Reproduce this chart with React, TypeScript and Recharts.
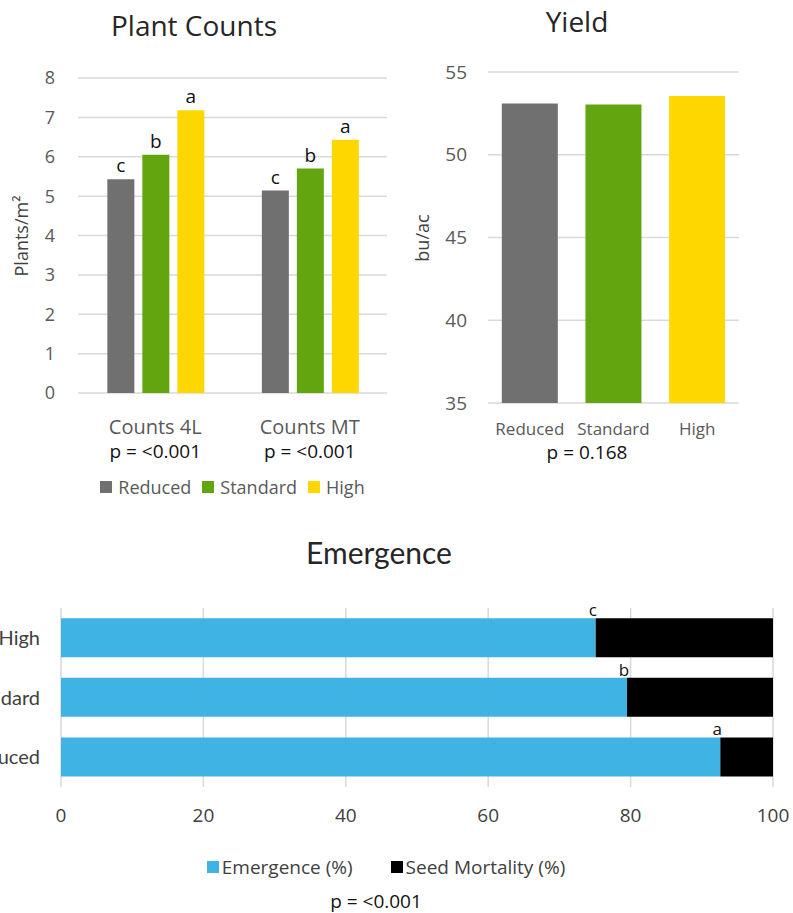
import React from 'react';
import { Bar, BarChart, CartesianGrid, Cell, LabelList, Legend, XAxis, YAxis } from 'recharts';

// plant counts
const countCategories = ['Counts 4L', 'Counts MT'];
const countPValues = ['p = <0.001', 'p = <0.001'];
const countSeries = ['Reduced', 'Standard', 'High'];
const countReduced = [5.43, 5.14];
const countStandard = [6.05, 5.7];
const countHigh = [7.18, 6.43];
const countLettersReduced = ['c', 'c'];
const countLettersStandard = ['b', 'b'];
const countLettersHigh = ['a', 'a'];
const countTicks = [0, 1, 2, 3, 4, 5, 6, 7, 8];

// yield
const yieldCategories = ['Reduced', 'Standard', 'High'];
const yieldValues = [53.09, 53.03, 53.55];
const yieldTicks = [35, 40, 45, 50, 55];
const yieldPValue = 'p = 0.168';

// emergence
const emergenceCategories = ['High', 'Standard', 'Reduced'];
const emergenceSeries = ['Emergence (%)', 'Seed Mortality (%)'];
const emergenceValues = [75.1, 79.5, 92.6];
const mortalityValues = [24.9, 20.5, 7.4];
const emergenceLetters = ['c', 'b', 'a'];
const emergenceTicks = [0, 20, 40, 60, 80, 100];
const emergencePValue = 'p = <0.001';

const GRAY = '#6f706f';
const GREEN = '#63a50e';
const YELLOW = '#ffd700';
const BLUE = '#3fb4e4';
const GRID = '#d9d9d9';
const SANS = '"Open Sans", sans-serif';

const countData = countCategories.map((name, i) => ({
  name,
  reduced: countReduced[i],
  standard: countStandard[i],
  high: countHigh[i],
  lr: countLettersReduced[i],
  ls: countLettersStandard[i],
  lh: countLettersHigh[i],
}));

const yieldData = yieldCategories.map((name, i) => ({ name, value: yieldValues[i] }));

const emergenceData = emergenceCategories.map((name, i) => ({
  name,
  emergence: emergenceValues[i],
  mortality: mortalityValues[i],
  letter: emergenceLetters[i],
}));

const legendContent = (gap: number, iconGap: number, fontSize: number, color: string) => (props: any) => (
  <div style={{ display: 'flex', justifyContent: 'center', gap, fontSize, color, lineHeight: '20px', fontFamily: SANS }}>
    {(props.payload || []).map((item: any) => (
      <span key={item.value} style={{ display: 'flex', alignItems: 'center' }}>
        <span style={{ width: 12, height: 12, background: item.color, marginRight: iconGap, display: 'inline-block' }} />
        {item.value}
      </span>
    ))}
  </div>
);

const CountTick = (props: any) => {
  const { x, y, payload } = props;
  return (
    <g>
      <text x={x} y={y + 39} textAnchor="middle" fill="#595959" fontSize={20}>
        {payload.value}
      </text>
      <text x={x} y={y + 63} textAnchor="middle" fill="#111" fontSize={19}>
        {countPValues[payload.index]}
      </text>
    </g>
  );
};

const EmergenceLetter = (props: any) => {
  const { x, y, width, value } = props;
  return (
    <text x={Number(x) + Number(width) - 3} y={Number(y) - 2} textAnchor="middle" fill="#111" fontSize={17}>
      {value}
    </text>
  );
};

const Title = ({ text, cx, top, size, font }: { text: string; cx: number; top: number; size: number; font: string }) => (
  <div
    style={{
      position: 'absolute', left: cx - 200, top, width: 400, textAlign: 'center',
      fontSize: size, lineHeight: 1, color: '#262626', fontFamily: font,
    }}
  >
    {text}
  </div>
);

const Note = ({ text, cx, top }: { text: string; cx: number; top: number }) => (
  <div style={{ position: 'absolute', left: cx - 100, top, width: 200, textAlign: 'center', fontSize: 19, lineHeight: 1, color: '#111' }}>
    {text}
  </div>
);

const AxisTitle = ({ text, cx, cy }: { text: string; cx: number; cy: number }) => (
  <div
    style={{
      position: 'absolute', left: cx - 60, top: cy - 10, width: 120, height: 20, lineHeight: '20px',
      textAlign: 'center', fontSize: 18, color: '#404040', transform: 'rotate(-90deg)',
    }}
  >
    {text}
  </div>
);

export default function App() {
  return (
    <div
      style={{
        position: 'absolute', left: 0, top: 0, width: 793, height: 913, overflow: 'hidden',
        background: '#fff', fontFamily: SANS,
      }}
    >
      {/* Plant Counts */}
      <Title text="Plant Counts" cx={194} top={11} size={28} font={SANS} />
      <AxisTitle text="Plants/m²" cx={21} cy={236} />
      <div style={{ position: 'absolute', left: 0, top: 0 }}>
        <BarChart
          width={400}
          height={510}
          data={countData}
          margin={{ top: 78, right: 13, bottom: 57, left: 0 }}
          barCategoryGap="19%"
          barGap={8}
        >
          <CartesianGrid vertical={false} stroke={GRID} strokeWidth={1.5} />
          <XAxis dataKey="name" height={60} axisLine={false} tickLine={false} tickSize={0} tick={<CountTick />} interval={0} />
          <YAxis
            width={78}
            domain={[0, 8]}
            ticks={countTicks}
            axisLine={false}
            tickLine={false}
            tickSize={0}
            tickMargin={23}
            tick={{ fontSize: 18, fill: '#595959' }}
          />
          <Legend
            layout="horizontal"
            verticalAlign="middle"
            align="center"
            itemSorter={(item: any) => countSeries.indexOf(item.value)}
            wrapperStyle={{ top: 477, left: 78, width: 309 }}
            content={legendContent(11, 6, 18, '#595959')}
          />
          <Bar dataKey="reduced" name={countSeries[0]} fill={GRAY} isAnimationActive={false}>
            <LabelList dataKey="lr" position="top" offset={7} fontSize={19} fill="#111" />
          </Bar>
          <Bar dataKey="standard" name={countSeries[1]} fill={GREEN} isAnimationActive={false}>
            <LabelList dataKey="ls" position="top" offset={7} fontSize={19} fill="#111" />
          </Bar>
          <Bar dataKey="high" name={countSeries[2]} fill={YELLOW} isAnimationActive={false}>
            <LabelList dataKey="lh" position="top" offset={7} fontSize={19} fill="#111" />
          </Bar>
        </BarChart>
      </div>

      {/* Yield */}
      <Title text="Yield" cx={577} top={7} size={28} font={SANS} />
      <AxisTitle text="bu/ac" cx={422} cy={238} />
      <div style={{ position: 'absolute', left: 400, top: 0 }}>
        <BarChart
          width={393}
          height={470}
          data={yieldData}
          margin={{ top: 72, right: 54, bottom: 27, left: 0 }}
          barCategoryGap="16.5%"
        >
          <CartesianGrid vertical={false} stroke={GRID} strokeWidth={1.5} />
          <XAxis
            dataKey="name"
            height={40}
            axisLine={false}
            tickLine={false}
            tickSize={0}
            tickMargin={20}
            interval={0}
            tick={{ fontSize: 17, fill: '#595959' }}
          />
          <YAxis
            width={88}
            domain={[35, 55]}
            ticks={yieldTicks}
            allowDataOverflow
            axisLine={false}
            tickLine={false}
            tickSize={0}
            tickMargin={21}
            tick={{ fontSize: 19, fill: '#595959' }}
          />
          <Bar dataKey="value" isAnimationActive={false}>
            {yieldData.map((d, i) => (
              <Cell key={d.name} fill={[GRAY, GREEN, YELLOW][i]} />
            ))}
          </Bar>
        </BarChart>
      </div>
      <Note text={yieldPValue} cx={587} top={443} />

      {/* Emergence */}
      <Title text="Emergence" cx={379} top={537} size={30} font="Lato, sans-serif" />
      <div style={{ position: 'absolute', left: -100, top: 530 }}>
        <BarChart
          layout="vertical"
          width={900}
          height={383}
          data={emergenceData}
          margin={{ top: 78, right: 27, bottom: 83, left: 0 }}
          barCategoryGap="17%"
        >
          <CartesianGrid horizontal={false} stroke={GRID} strokeWidth={1.5} />
          <XAxis
            type="number"
            domain={[0, 100]}
            ticks={emergenceTicks}
            height={43}
            axisLine={false}
            tickLine={false}
            tickSize={0}
            tickMargin={22}
            tick={{ fontSize: 19, fill: '#404040' }}
          />
          <YAxis
            type="category"
            dataKey="name"
            width={161}
            axisLine={false}
            tickLine={false}
            tickSize={0}
            tickMargin={21}
            tick={{ fontSize: 20, fill: '#404040', fontFamily: 'Lato, sans-serif' }}
          />
          <Legend
            layout="horizontal"
            verticalAlign="middle"
            align="center"
            itemSorter={(item: any) => emergenceSeries.indexOf(item.value)}
            wrapperStyle={{ top: 327, left: 286, width: 400 }}
            content={legendContent(38, 3, 19, '#404040')}
          />
          <Bar dataKey="emergence" name={emergenceSeries[0]} stackId="s" fill={BLUE} isAnimationActive={false}>
            <LabelList dataKey="letter" content={<EmergenceLetter />} />
          </Bar>
          <Bar dataKey="mortality" name={emergenceSeries[1]} stackId="s" fill="#000" isAnimationActive={false} />
        </BarChart>
      </div>
      <Note text={emergencePValue} cx={376} top={892} />
    </div>
  );
}
